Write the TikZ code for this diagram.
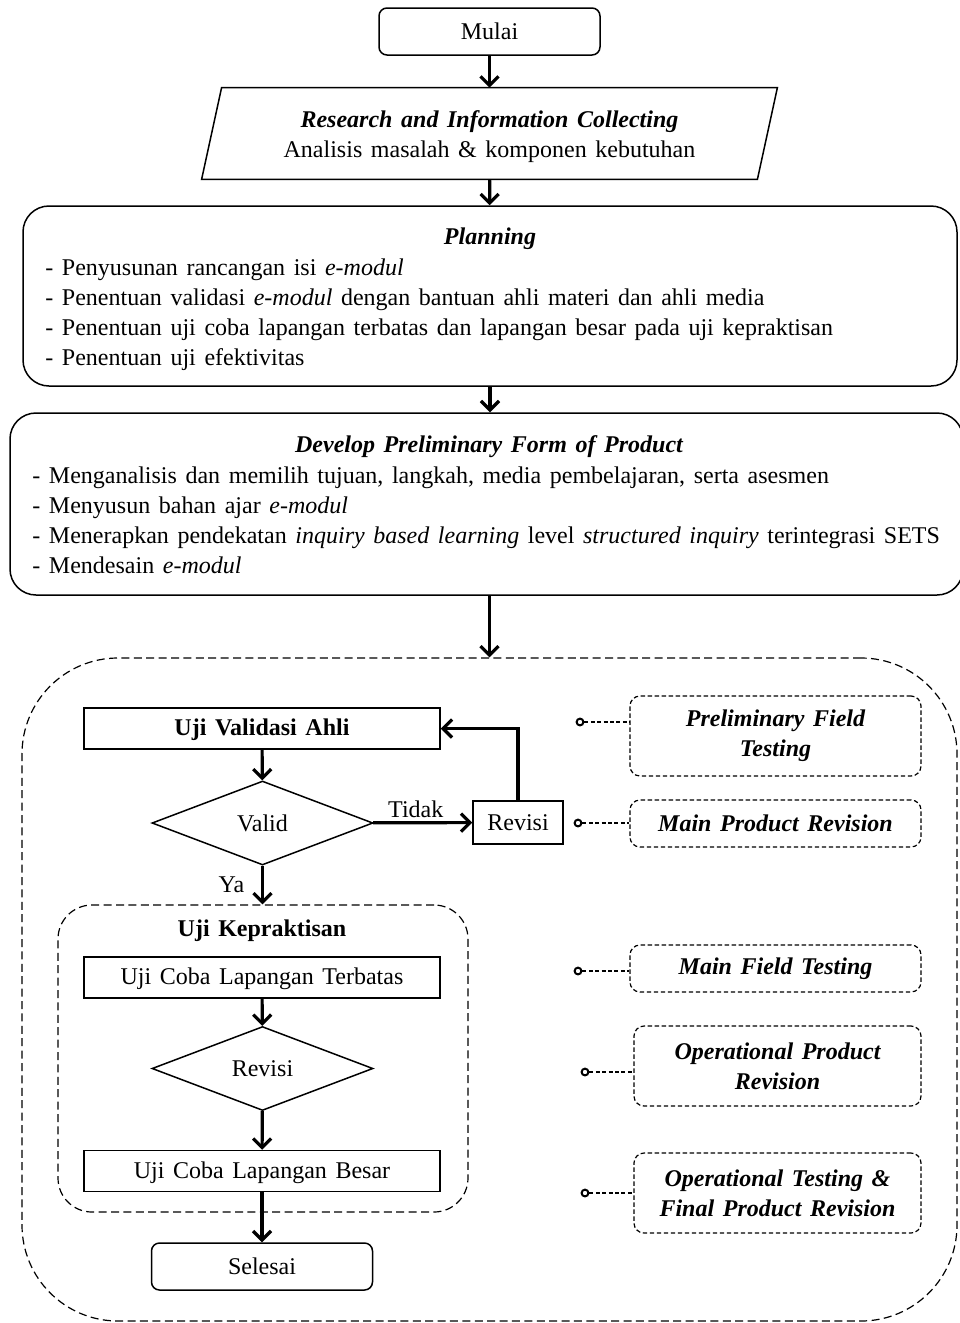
\documentclass[tikz,border=0pt]{standalone}
\usepackage{fontspec}
\setmainfont{Liberation Serif}
\usetikzlibrary{arrows.meta,positioning,calc,shapes.geometric}
\newcommand\flowfont{\fontsize{12}{15}\selectfont\spaceskip=4.3pt plus 1pt minus 0.5pt\relax}
\tikzset{
flowterm/.style={draw, line width=0.75pt, rounded corners=4pt, minimum width=110.5pt, minimum height=23.5pt, align=center},
flowbox/.style={draw, line width=0.75pt, minimum width=178pt, minimum height=20.5pt, text depth=1pt, align=center},
flowpanel/.style={draw, line width=0.75pt, rounded corners=13pt},
flowdecide/.style={draw, diamond, line width=0.75pt, minimum width=110.5pt, minimum height=42pt, inner sep=0pt},
flowphase/.style={draw, line width=0.6pt, dash pattern=on 2.2pt off 1.3pt, rounded corners=5pt, align=center, font=\flowfont\bfseries\itshape},
flowgroup/.style={draw, line width=0.6pt, dash pattern=on 4pt off 2.2pt},
flowarrow/.style={-{Straight Barb[length=4.5pt,width=9pt]}, line width=1.6pt},
flowpin/.style={circle, draw, line width=1pt, minimum size=3.4pt, inner sep=0pt},
flowtie/.style={line width=0.6pt, dash pattern=on 2pt off 1.2pt},
flowlist/.style={align=left, inner sep=0pt, anchor=west},
flowtitle/.style={inner sep=0pt, font=\flowfont\bfseries\itshape}
}
\begin{document}
\begin{tikzpicture}[x=0.5pt, y=-0.5pt, font=\flowfont]
  \useasboundingbox (0,0) rectangle (959,1323);
  % upper chain
  \node[flowterm] (mulai) at (489.5,31.5) {Mulai};
  \node[minimum width=277.5pt, minimum height=45.5pt, inner sep=0pt] (ric) at (489.5,133.5) {};
  \node[align=center, inner sep=0pt] (rictext) at (489.5,137) {\textbf{\textit{Research and Information Collecting}}\\Analisis masalah \& komponen kebutuhan};
  \draw[line width=0.75pt] ($(ric.north west)+(10,0)$) -- ($(ric.north east)+(10,0)$)
    -- ($(ric.south east)+(-10,0)$) -- ($(ric.south west)+(-10,0)$) -- cycle;
  \node[flowpanel, minimum width=467pt, minimum height=90pt] (plan) at (490,296) {};
  \node[flowtitle] (plantitle) at (490,239) {Planning};
  \node[flowlist] (planlist) at (45,315) {- Penyusunan rancangan isi \textit{e-modul}\\
    - Penentuan validasi \textit{e-modul} dengan bantuan ahli materi dan ahli media\\
    - Penentuan uji coba lapangan terbatas dan lapangan besar pada uji kepraktisan\\
    - Penentuan uji efektivitas};
  \node[flowpanel, minimum width=476.5pt, minimum height=91pt] (dev) at (486.5,504) {};
  \node[flowtitle] (devtitle) at (489,447) {Develop Preliminary Form of Product};
  \node[flowlist] (devlist) at (32,520) {- Menganalisis dan memilih tujuan, langkah, media pembelajaran, serta asesmen\\
    - Menyusun bahan ajar \textit{e-modul}\\
    - Menerapkan pendekatan \textit{inquiry based learning} level \textit{structured inquiry} terintegrasi SETS\\
    - Mendesain \textit{e-modul}};
  \draw[flowarrow] (mulai) -- (ric);
  \draw[flowarrow] (ric) -- (plan);
  \draw[flowarrow] (plan.south) -- (plan.south |- dev.north);
  % development stage
  \node[flowgroup, rounded corners=48pt, minimum width=467.5pt, minimum height=331.5pt] (stage) at (489.5,989.5) {};
  \draw[flowarrow] (stage.north |- dev.south) -- (stage.north);
  \node[flowbox, font=\flowfont\bfseries] (ujival) at (262,728.5) {Uji Validasi Ahli};
  \node[flowdecide] (valid) at (262.5,823) {Valid};
  \node[draw, line width=0.75pt, minimum width=45pt, minimum height=21.5pt] (revisi) at (518,822.5) {Revisi};
  \node[flowgroup, rounded corners=17pt, minimum width=205pt, minimum height=153.5pt] (prak) at (263,1058.5) {};
  \node[inner sep=0pt, font=\flowfont\bfseries] (praktitle) at (262,931) {Uji Kepraktisan};
  \node[flowbox] (terbatas) at (262,977.5) {Uji Coba Lapangan Terbatas};
  \node[flowdecide] (revisi2) at (262.5,1068.5) {Revisi};
  \node[flowbox] (besar) at (262,1171) {Uji Coba Lapangan Besar};
  \node[flowterm] (selesai) at (262,1266.5) {Selesai};
  \draw[flowarrow] (ujival) -- (valid);
  \draw[flowarrow] (valid) -- node[above, inner sep=1.5pt, pos=0.43] (tidak) {Tidak} (revisi);
  \draw[flowarrow] (revisi.north) |- (ujival.east);
  \draw[flowarrow] (valid.south) -- node[left=5pt] (ya) {Ya} (valid.south |- prak.north);
  \draw[flowarrow] (terbatas) -- (revisi2);
  \draw[flowarrow] (revisi2) -- (besar);
  \draw[flowarrow] (besar) -- (selesai);
  % phase labels
  \node[flowphase, minimum width=145.5pt, minimum height=40pt] (pft) at (775.5,736) {Preliminary Field\\Testing};
  \node[flowphase, minimum width=145.5pt, minimum height=23.5pt] (mpr) at (775.5,823.5) {Main Product Revision};
  \node[flowphase, minimum width=145.5pt, minimum height=23.5pt] (mft) at (775.5,968.5) {Main Field Testing};
  \node[flowphase, minimum width=143.5pt, minimum height=40pt] (opr) at (777.5,1066) {Operational Product\\Revision};
  \node[flowphase, minimum width=143.5pt, minimum height=40pt] (otf) at (777.5,1193) {Operational Testing \&\\Final Product Revision};
  \node[flowpin] (pin1) at (580,722) {};
  \node[flowpin] (pin2) at (578,823) {};
  \node[flowpin] (pin3) at (578,971) {};
  \node[flowpin] (pin4) at (585,1072) {};
  \node[flowpin] (pin5) at (585,1193) {};
  \draw[flowtie] (pin1) -- (pin1 -| pft.west);
  \draw[flowtie] (pin2) -- (pin2 -| mpr.west);
  \draw[flowtie] (pin3) -- (pin3 -| mft.west);
  \draw[flowtie] (pin4) -- (pin4 -| opr.west);
  \draw[flowtie] (pin5) -- (pin5 -| otf.west);
\end{tikzpicture}
\end{document}
